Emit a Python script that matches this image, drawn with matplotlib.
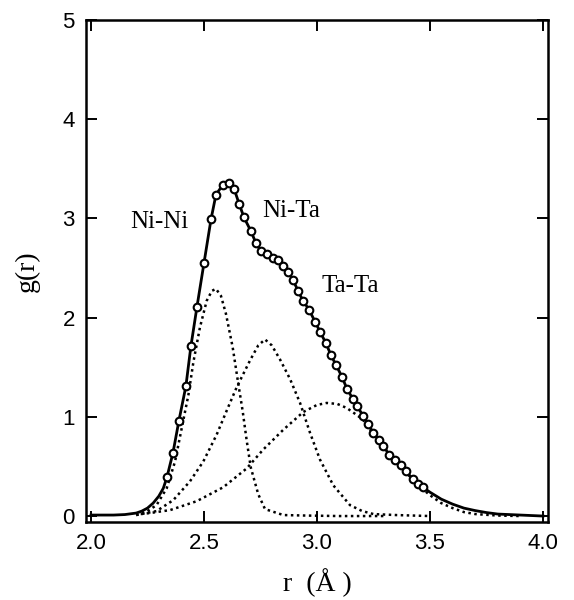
import matplotlib
matplotlib.use("Agg")
import matplotlib.pyplot as plt

# observed g(r) (open circles)
r_obs = [2.336, 2.363, 2.389, 2.420, 2.442, 2.469, 2.500, 2.531, 2.553, 2.584,
         2.611, 2.633, 2.655, 2.677, 2.708, 2.730, 2.752, 2.779, 2.805, 2.827,
         2.850, 2.872, 2.894, 2.916, 2.938, 2.965, 2.991, 3.013, 3.040, 3.062,
         3.085, 3.111, 3.133, 3.159, 3.177, 3.204, 3.226, 3.248, 3.274, 3.292,
         3.319, 3.345, 3.372, 3.394, 3.425, 3.447, 3.469]
g_obs = [0.39, 0.64, 0.96, 1.31, 1.71, 2.11, 2.55, 2.99, 3.24, 3.34,
         3.36, 3.30, 3.15, 3.01, 2.87, 2.75, 2.67, 2.64, 2.60, 2.58,
         2.52, 2.46, 2.38, 2.27, 2.17, 2.08, 1.96, 1.86, 1.74, 1.62,
         1.52, 1.40, 1.28, 1.18, 1.11, 1.01, 0.93, 0.84, 0.77, 0.71,
         0.62, 0.56, 0.51, 0.45, 0.37, 0.32, 0.29]

# fitted total g(r) (solid line)
r_fit = [2.00, 2.05, 2.10, 2.15, 2.20, 2.225, 2.25, 2.275, 2.30, 2.32,
         2.336, 2.363, 2.389, 2.420, 2.442, 2.469, 2.500, 2.531, 2.553, 2.584,
         2.611, 2.633, 2.655, 2.677, 2.708, 2.730, 2.752, 2.779, 2.805, 2.827,
         2.850, 2.872, 2.894, 2.916, 2.938, 2.965, 2.991, 3.013, 3.040, 3.062,
         3.085, 3.111, 3.133, 3.159, 3.177, 3.204, 3.226, 3.248, 3.274, 3.292,
         3.319, 3.345, 3.372, 3.394, 3.425, 3.447, 3.469, 3.50, 3.55, 3.60,
         3.65, 3.70, 3.75, 3.80, 3.85, 3.90, 3.95, 4.00]
g_fit = [0.01, 0.01, 0.01, 0.015, 0.03, 0.05, 0.08, 0.13, 0.20, 0.28,
         0.39, 0.64, 0.96, 1.31, 1.71, 2.11, 2.55, 2.99, 3.24, 3.34,
         3.36, 3.30, 3.15, 3.01, 2.87, 2.75, 2.67, 2.64, 2.60, 2.58,
         2.52, 2.46, 2.38, 2.27, 2.17, 2.08, 1.96, 1.86, 1.74, 1.62,
         1.52, 1.40, 1.28, 1.18, 1.11, 1.01, 0.93, 0.84, 0.77, 0.71,
         0.62, 0.56, 0.51, 0.45, 0.37, 0.32, 0.29, 0.24, 0.17, 0.12,
         0.08, 0.055, 0.035, 0.02, 0.015, 0.01, 0.005, 0.0]

# partial Ni-Ni (dotted)
r_nini = [2.20, 2.25, 2.29, 2.335, 2.372, 2.401, 2.431, 2.453, 2.482, 2.512,
          2.535, 2.553, 2.575, 2.597, 2.627, 2.652, 2.671, 2.689, 2.707, 2.740,
          2.770, 2.851, 2.95, 3.10, 3.30]
g_nini = [0.01, 0.05, 0.11, 0.28, 0.55, 0.88, 1.22, 1.55, 1.90, 2.17,
          2.27, 2.29, 2.22, 2.04, 1.70, 1.33, 1.06, 0.76, 0.49, 0.22,
          0.07, 0.01, 0.005, 0.0, 0.0]

# partial Ni-Ta (dotted)
r_nita = [2.20, 2.29, 2.364, 2.438, 2.497, 2.556, 2.600, 2.645, 2.704, 2.740,
          2.770, 2.800, 2.836, 2.881, 2.925, 2.969, 3.013, 3.072, 3.146, 3.20,
          3.25, 3.35, 3.50]
g_nita = [0.01, 0.05, 0.16, 0.35, 0.55, 0.82, 1.06, 1.30, 1.57, 1.72,
          1.78, 1.72, 1.58, 1.38, 1.14, 0.84, 0.57, 0.31, 0.11, 0.05,
          0.02, 0.01, 0.0]

# partial Ta-Ta (dotted)
r_tata = [2.22, 2.26, 2.35, 2.468, 2.585, 2.689, 2.762, 2.851, 2.94, 3.00,
          3.043, 3.09, 3.131, 3.175, 3.204, 3.226, 3.248, 3.274, 3.30, 3.345,
          3.394, 3.447, 3.50, 3.55, 3.60, 3.65, 3.70, 3.80, 3.90]
g_tata = [0.02, 0.03, 0.06, 0.15, 0.29, 0.48, 0.67, 0.87, 1.05, 1.12,
          1.14, 1.13, 1.09, 1.02, 0.97, 0.90, 0.83, 0.76, 0.69, 0.56,
          0.44, 0.31, 0.21, 0.13, 0.08, 0.04, 0.02, 0.005, 0.0]

labels = ["Ni-Ni", "Ni-Ta", "Ta-Ta"]
label_pos = [(2.173, 2.96), (2.757, 3.07), (3.02, 2.32)]

x_ticks = [2.0, 2.5, 3.0, 3.5, 4.0]
x_ticklabels = ["2.0", "2.5", "3.0", "3.5", "4.0"]
y_ticks = [0, 1, 2, 3, 4, 5]
y_ticklabels = ["0", "1", "2", "3", "4", "5"]

serif = ["Liberation Serif", "DejaVu Serif"]
sans = ["Liberation Sans", "DejaVu Sans"]

fig = plt.figure(figsize=(5.74, 6.0), dpi=100)
ax = fig.add_axes([86 / 574, 1 - 522 / 600, 462 / 574, 502 / 600])

dot = (0, (1.0, 1.4))
for rr, gg in [(r_nini, g_nini), (r_nita, g_nita), (r_tata, g_tata)]:
    ax.plot(rr, gg, color="black", lw=1.8, linestyle=dot)
ax.plot(r_fit, g_fit, color="black", lw=2.0, solid_joinstyle="round")
ax.plot(r_obs, g_obs, linestyle="none", marker="o", markersize=5.5,
        markerfacecolor="white", markeredgecolor="black", markeredgewidth=1.5)

for lab, (x, y) in zip(labels, label_pos):
    ax.text(x, y, lab, ha="left", va="center", fontsize=18, family=serif)

ax.set_xlim(1.978, 4.022)
ax.set_ylim(-0.06, 5.0)
ax.set_xticks(x_ticks)
ax.set_xticklabels(x_ticklabels)
ax.set_yticks(y_ticks)
ax.set_yticklabels(y_ticklabels)
ax.tick_params(direction="in", length=8, width=1.4, top=True, right=True,
               labelsize=16, pad=8)
for lab in ax.get_xticklabels() + ax.get_yticklabels():
    lab.set_family(sans)
for s in ax.spines.values():
    s.set_linewidth(1.8)

ax.set_ylabel("g(r)", fontsize=20, family=serif, labelpad=16)
ax.set_xlabel("r  (Å )", fontsize=20, family=serif, labelpad=10)

fig.savefig("out.png", dpi=100)
